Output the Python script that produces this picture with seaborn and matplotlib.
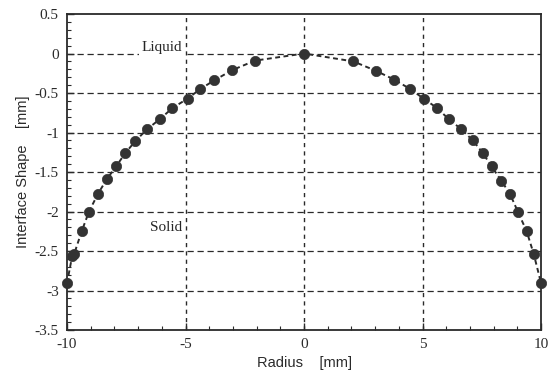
import numpy as np
import pandas as pd
import matplotlib
matplotlib.use('Agg')
import matplotlib.pyplot as plt
from matplotlib.ticker import MultipleLocator
import seaborn as sns

radius = [-10, -9.78, -9.7, -9.38, -9.07, -8.7, -8.32, -7.93, -7.54, -7.12,
          -6.63, -6.08, -5.55, -4.91, -4.38, -3.79, -3.03, -2.07, 0,
          2.08, 3.04, 3.8, 4.48, 5.04, 5.61, 6.1, 6.64, 7.12, 7.54, 7.91,
          8.32, 8.69, 9.03, 9.39, 9.69, 10]
shape = [-2.91, -2.56, -2.54, -2.25, -2.0, -1.78, -1.59, -1.43, -1.26, -1.11,
         -0.96, -0.83, -0.69, -0.57, -0.45, -0.34, -0.21, -0.09, 0,
         -0.10, -0.22, -0.33, -0.45, -0.57, -0.69, -0.83, -0.96, -1.10, -1.26, -1.43,
         -1.61, -1.78, -2.01, -2.25, -2.54, -2.91]

x_ticks = [-10, -5, 0, 5, 10]
y_ticks = [0.5, 0, -0.5, -1, -1.5, -2, -2.5, -3, -3.5]
y_tick_labels = ['0.5', '0', '-0.5', '-1', '-1.5', '-2', '-2.5', '-3', '-3.5']

df = pd.DataFrame({'Radius': radius, 'Shape': shape})

sns.set_style('white')
plt.rcParams['font.family'] = ['Liberation Serif', 'DejaVu Serif']

fig = plt.figure(figsize=(5.55, 3.84), dpi=100)
ax = fig.add_axes([0.1207, 0.1406, 0.8543, 0.8229])

# grid
for yv in y_ticks[1:-1]:
    ax.axhline(yv, color='#2a2a2a', lw=0.9, ls=(0, (5, 3)), zorder=1)
for xv in x_ticks[1:-1]:
    ax.axvline(xv, color='#2a2a2a', lw=1.0, ls=(0, (3, 3)), zorder=1)

sns.lineplot(data=df, x='Radius', y='Shape', ax=ax, color='#2a2a2a',
             lw=1.4, linestyle=(0, (2.5, 1.8)), sort=False, zorder=2)
sns.scatterplot(data=df, x='Radius', y='Shape', ax=ax, color='#333333',
                s=55, edgecolor='#333333', linewidth=0.5, zorder=3, clip_on=False)

ax.text(-6.0, 0.08, 'Liquid', fontsize=11, ha='center', va='center',
        zorder=4, bbox=dict(facecolor='white', edgecolor='none', pad=1.5))
ax.text(-5.8, -2.2, 'Solid', fontsize=11, ha='center', va='center',
        zorder=4, bbox=dict(facecolor='white', edgecolor='none', pad=1.5))

ax.set_xlim(-10, 10)
ax.set_ylim(-3.5, 0.5)
ax.set_xticks(x_ticks)
ax.set_xticklabels([str(v) for v in x_ticks])
ax.set_yticks(y_ticks)
ax.set_yticklabels(y_tick_labels)
ax.xaxis.set_minor_locator(MultipleLocator(1))
ax.yaxis.set_minor_locator(MultipleLocator(0.1))
ax.tick_params(which='both', direction='in', bottom=True, left=True,
               top=False, right=False, labelsize=11, colors='#2a2a2a', pad=6)
ax.tick_params(which='major', length=5, width=1)
ax.tick_params(which='minor', length=3, width=0.8)

ax.set_xlabel('Radius    [mm]', family=['Liberation Sans', 'DejaVu Sans'],
              fontsize=10.5, color='#2a2a2a', labelpad=3)
ax.set_ylabel('Interface Shape    [mm]', family=['Liberation Sans', 'DejaVu Sans'],
              fontsize=10.5, color='#2a2a2a', labelpad=3)

for sp in ax.spines.values():
    sp.set_color('#2a2a2a')
    sp.set_linewidth(1.3)

fig.savefig('out.png', dpi=100)
